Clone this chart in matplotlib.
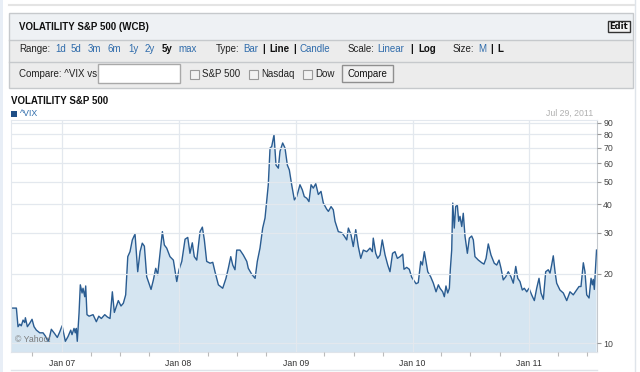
import numpy as np
import pandas as pd
import matplotlib
matplotlib.use('Agg')
import matplotlib.pyplot as plt
import matplotlib.dates as mdates
from matplotlib.patches import Rectangle
from matplotlib.lines import Line2D

plt.rcParams['font.family'] = ['Liberation Sans', 'DejaVu Sans']

# weekly-ish closes of ^VIX (decimal year, value)
years = [2006.566, 2006.612, 2006.626, 2006.641, 2006.654, 2006.669, 2006.683, 2006.689,
         2006.706, 2006.726, 2006.746, 2006.763, 2006.783, 2006.812, 2006.840, 2006.860,
         2006.883, 2006.897, 2006.911, 2006.940, 2006.962, 2006.983, 2007.003, 2007.031,
         2007.054, 2007.077, 2007.088, 2007.105, 2007.116, 2007.125, 2007.133, 2007.148,
         2007.159, 2007.174, 2007.182, 2007.197, 2007.205, 2007.216, 2007.234, 2007.268,
         2007.296, 2007.317, 2007.339, 2007.368, 2007.390, 2007.413, 2007.433, 2007.450,
         2007.484, 2007.507, 2007.527, 2007.547, 2007.565, 2007.584, 2007.604, 2007.627,
         2007.650, 2007.670, 2007.689, 2007.707, 2007.727, 2007.764, 2007.784, 2007.804,
         2007.821, 2007.841, 2007.861, 2007.878, 2007.898, 2007.926, 2007.955, 2007.984,
         2008.003, 2008.027, 2008.055, 2008.078, 2008.097, 2008.117, 2008.134, 2008.155,
         2008.183, 2008.203, 2008.220, 2008.240, 2008.269, 2008.292, 2008.311, 2008.340,
         2008.377, 2008.405, 2008.425, 2008.446, 2008.463, 2008.482, 2008.497, 2008.525,
         2008.553, 2008.583, 2008.596, 2008.625, 2008.654, 2008.673, 2008.696, 2008.719,
         2008.739, 2008.767, 2008.782, 2008.796, 2008.816, 2008.833, 2008.853, 2008.867,
         2008.890, 2008.910, 2008.930, 2008.947, 2008.967, 2008.990, 2009.010, 2009.038,
         2009.058, 2009.075, 2009.096, 2009.115, 2009.133, 2009.152, 2009.173, 2009.195,
         2009.218, 2009.238, 2009.267, 2009.281, 2009.304, 2009.323, 2009.338, 2009.366,
         2009.395, 2009.417, 2009.438, 2009.452, 2009.475, 2009.494, 2009.515, 2009.537,
         2009.558, 2009.580, 2009.609, 2009.637, 2009.657, 2009.665, 2009.686, 2009.703,
         2009.723, 2009.742, 2009.766, 2009.789, 2009.808, 2009.830, 2009.851, 2009.871,
         2009.894, 2009.917, 2009.928, 2009.951, 2009.973, 2009.994, 2010.031, 2010.050,
         2010.071, 2010.085, 2010.102, 2010.116, 2010.131, 2010.156, 2010.179, 2010.202,
         2010.222, 2010.236, 2010.259, 2010.273, 2010.287, 2010.302, 2010.316, 2010.324,
         2010.336, 2010.345, 2010.358, 2010.370, 2010.384, 2010.396, 2010.407, 2010.422,
         2010.435, 2010.450, 2010.470, 2010.487, 2010.507, 2010.521, 2010.535, 2010.564,
         2010.593, 2010.612, 2010.630, 2010.649, 2010.672, 2010.700, 2010.721, 2010.741,
         2010.758, 2010.777, 2010.798, 2010.820, 2010.843, 2010.863, 2010.884, 2010.901,
         2010.920, 2010.940, 2010.957, 2010.978, 2010.997, 2011.020, 2011.043, 2011.063,
         2011.083, 2011.100, 2011.120, 2011.140, 2011.162, 2011.177, 2011.191, 2011.205,
         2011.220, 2011.234, 2011.262, 2011.291, 2011.320, 2011.348, 2011.376, 2011.405,
         2011.425, 2011.442, 2011.462, 2011.476, 2011.491, 2011.511, 2011.528, 2011.539,
         2011.547, 2011.556, 2011.575]
vix = [14.2, 14.2, 11.8, 12.1, 11.9, 12.6, 12.3, 12.9,
       11.8, 12.2, 12.7, 11.8, 11.4, 11.1, 11.1, 10.75,
       10.2, 10.7, 11.5, 11.0, 10.6, 11.2, 11.9, 10.2,
       10.7, 11.4, 10.9, 11.6, 11.1, 11.6, 10.2, 13.5,
       17.9, 16.5, 17.3, 15.9, 17.7, 13.3, 13.1, 13.3,
       12.4, 13.1, 12.8, 13.3, 13.0, 12.8, 16.7, 13.6,
       15.3, 14.5, 14.9, 16.2, 23.7, 24.9, 28.0, 29.7,
       20.4, 24.9, 27.1, 26.3, 19.4, 17.1, 18.8, 21.1,
       19.8, 24.5, 30.4, 26.6, 25.8, 23.7, 22.9, 18.5,
       20.8, 22.6, 28.2, 28.7, 24.5, 27.2, 23.7, 22.9,
       30.4, 31.8, 28.0, 22.6, 22.2, 22.4, 20.4, 17.9,
       17.3, 19.1, 21.1, 23.7, 21.8, 20.8, 25.3, 25.3,
       24.1, 22.6, 21.1, 19.9, 19.1, 22.6, 25.8, 31.5,
       34.8, 48.5, 69.9, 70.9, 79.7, 59.0, 57.2, 67.6,
       73.5, 69.9, 59.0, 56.2, 48.5, 41.7, 43.1, 48.5,
       46.1, 43.1, 42.4, 41.0, 48.5, 46.9, 49.0, 44.0,
       45.4, 40.4, 38.0, 37.2, 39.0, 37.8, 33.7, 30.4,
       30.1, 29.1, 28.0, 31.5, 29.4, 26.2, 31.0, 26.2,
       23.3, 25.3, 24.9, 25.8, 24.9, 28.5, 24.5, 23.3,
       24.1, 28.0, 24.1, 21.8, 20.4, 24.5, 24.9, 23.3,
       23.7, 24.3, 20.9, 21.3, 20.9, 19.3, 18.1, 18.3,
       22.6, 21.8, 24.9, 22.6, 20.4, 19.4, 18.2, 16.7,
       17.9, 17.3, 16.7, 15.9, 17.7, 16.5, 17.3, 20.8,
       25.3, 40.4, 31.5, 39.0, 39.7, 33.7, 35.4, 32.0,
       36.5, 29.0, 24.5, 28.5, 29.1, 28.0, 23.7, 22.9,
       22.3, 22.0, 23.3, 26.9, 24.1, 22.2, 21.8, 22.9,
       21.1, 18.8, 19.4, 20.4, 19.4, 18.2, 21.5, 19.1,
       18.5, 17.0, 17.3, 16.7, 17.3, 16.2, 15.3, 17.3,
       19.1, 16.5, 15.5, 20.4, 20.8, 20.1, 21.8, 23.9,
       20.4, 18.2, 17.0, 16.5, 15.3, 16.7, 16.2, 17.0,
       17.6, 17.6, 22.3, 20.4, 16.2, 15.7, 19.1, 17.9,
       18.9, 17.1, 25.3]

y_ticks = [10, 20, 30, 40, 50, 60, 70, 80, 90]
range_links = ['1d', '5d', '3m', '6m', '1y', '2y', '5y', 'max']

W, H = 640, 372
LINK = '#2f6cab'
BORDER = '#c6c9cc'


def fx(x):
    return x / W


def fy(y):
    return 1 - y / H


def to_dates(yrs):
    yrs = np.asarray(yrs)
    return pd.Timestamp('2007-01-01') + pd.to_timedelta((yrs - 2007) * 365.25, unit='D')


fig = plt.figure(figsize=(6.4, 3.72), dpi=100)
fig.patch.set_facecolor('white')

# page decoration
fig.add_artist(Rectangle((0, 0), fx(3), 1, transform=fig.transFigure, color='#e8eef6', lw=0))
fig.add_artist(Line2D([fx(9), fx(634)], [fy(5), fy(5)], transform=fig.transFigure, color='#e4e4e4', lw=1.5))
fig.add_artist(Line2D([fx(635), fx(635)], [0, 1], transform=fig.transFigure, color='#dfe4ea', lw=1))

# header panel
fig.add_artist(Rectangle((fx(9), fy(40)), fx(624), 27 / H, transform=fig.transFigure,
                         facecolor='#eef1f4', edgecolor='none'))
fig.add_artist(Rectangle((fx(9), fy(88)), fx(624), 48 / H, transform=fig.transFigure,
                         facecolor='#ececec', edgecolor='none'))
fig.add_artist(Rectangle((fx(9), fy(88)), fx(624), 75 / H, transform=fig.transFigure,
                         facecolor='none', edgecolor=BORDER, lw=1))
for yy in (40, 62):
    fig.add_artist(Line2D([fx(9), fx(633)], [fy(yy), fy(yy)], transform=fig.transFigure,
                          color=BORDER, lw=1))

fig.text(fx(19), fy(27), 'VOLATILITY S&P 500 (WCB)', fontsize=7.0, fontweight='bold',
         va='center', color='#111111')
fig.add_artist(Rectangle((fx(608), fy(32)), fx(22), 11 / H, transform=fig.transFigure,
                         facecolor='#f4f4f4', edgecolor='#333333', lw=1))
fig.text(fx(619), fy(26.5), 'Edit', fontsize=6, fontweight='bold', ha='center', va='center',
         family='DejaVu Sans', color='#111111')

# row 2: range / type / scale / size
row2 = 49
fig.text(fx(19), fy(row2), 'Range:', fontsize=7, va='center', color='#222222')
for lab, xx in zip(range_links, [55, 71, 88, 108, 128, 145, 162, 178]):
    bold = lab == '5y'
    fig.text(fx(xx), fy(row2), lab, fontsize=7, va='center',
             color='#111111' if bold else LINK, fontweight='bold' if bold else 'normal')
items = [('Type:', 216, '#222222', 'normal'), ('Bar', 243, LINK, 'normal'),
         ('|', 262, '#111111', 'bold'), ('Line', 269, '#111111', 'bold'),
         ('|', 293, '#111111', 'bold'), ('Candle', 300, LINK, 'normal'),
         ('Scale:', 348, '#222222', 'normal'), ('Linear', 377, LINK, 'normal'),
         ('|', 410, '#111111', 'bold'), ('Log', 418, '#111111', 'bold'),
         ('Size:', 453, '#222222', 'normal'), ('M', 478, LINK, 'normal'),
         ('|', 490, '#111111', 'bold'), ('L', 497, '#111111', 'bold')]
for lab, xx, col, wt in items:
    fig.text(fx(xx), fy(row2), lab, fontsize=7, va='center', color=col, fontweight=wt)

# row 3: compare controls
row3 = 74
fig.text(fx(19), fy(row3), 'Compare: ^VIX vs', fontsize=7, va='center', color='#222222')
fig.add_artist(Rectangle((fx(98), fy(83)), fx(82), 19 / H, transform=fig.transFigure,
                         facecolor='white', edgecolor='#a9a9a9', lw=1))
for cx, lab in [(190, 'S&P 500'), (249, 'Nasdaq'), (303, 'Dow')]:
    fig.add_artist(Rectangle((fx(cx), fy(79)), fx(9), 9 / H, transform=fig.transFigure,
                             facecolor='#f2f2f2', edgecolor='#9a9a9a', lw=0.8))
    fig.text(fx(cx + 12), fy(row3), lab, fontsize=7, va='center', color='#222222')
fig.add_artist(Rectangle((fx(342), fy(82)), fx(51), 17 / H, transform=fig.transFigure,
                         facecolor='#f0f0f0', edgecolor='#8f8f8f', lw=1))
fig.text(fx(367.5), fy(row3), 'Compare', fontsize=7, ha='center', va='center', color='#111111')

# chart titles
fig.text(fx(11), fy(101), 'VOLATILITY S&P 500', fontsize=7.0, fontweight='bold',
         va='center', color='#111111')
fig.add_artist(Rectangle((fx(11), fy(116.5)), fx(6), 6 / H, transform=fig.transFigure,
                         color='#1f4f86', lw=0))
fig.text(fx(20), fy(113), '^VIX', fontsize=6.3, va='center', color=LINK)
fig.text(fx(593), fy(113), 'Jul 29, 2011', fontsize=6.3, va='center', ha='right', color='#b0b0b0')

# main chart
ax = fig.add_axes([fx(11), fy(352), fx(586), 232 / H])
dates = to_dates(years)
ax.fill_between(dates, vix, 1, color='#d5e5f1', lw=0)
ax.plot(dates, vix, color='#2a5c91', lw=1.0)
ax.set_yscale('log')
ax.set_ylim(9.17, 92.4)
ax.set_xlim(to_dates([2006.566])[0], to_dates([2011.579])[0])

ax.set_yticks(y_ticks)
ax.set_yticklabels([str(v) for v in y_ticks])
ax.yaxis.set_minor_locator(plt.NullLocator())
ax.yaxis.tick_right()
ax.tick_params(axis='y', which='major', length=3, width=0.8, color='#999999',
               labelsize=6.3, labelcolor='#444444', pad=1.5)

ax.xaxis.set_major_locator(mdates.YearLocator())
ax.xaxis.set_major_formatter(mdates.DateFormatter('%b %y'))
ax.xaxis.set_minor_locator(mdates.MonthLocator(bymonth=(4, 7, 10)))
ax.tick_params(axis='x', which='major', length=0, labelsize=6.3, labelcolor='#333333', pad=5)
ax.tick_params(axis='x', which='minor', length=3, width=0.8, color='#bbbbbb')

ax.grid(True, which='major', color='#e3e8ee', lw=0.9)
ax.set_axisbelow(False)
for line in ax.get_xgridlines() + ax.get_ygridlines():
    line.set_zorder(0.5)
for s in ('top', 'left'):
    ax.spines[s].set_color('#e3e8ee')
ax.spines['right'].set_color('#c5c9ce')
ax.spines['bottom'].set_color('#dfe4ea')

ax.text(0.006, 0.035, '\u00a9 Yahoo!', transform=ax.transAxes, fontsize=6.3,
        color='#7a7a7a', va='bottom')

# next panel edge below
fig.add_artist(Line2D([fx(11), fx(597)], [fy(370), fy(370)], transform=fig.transFigure,
                      color='#dfe4ea', lw=1))

fig.savefig('out.png', dpi=100)
